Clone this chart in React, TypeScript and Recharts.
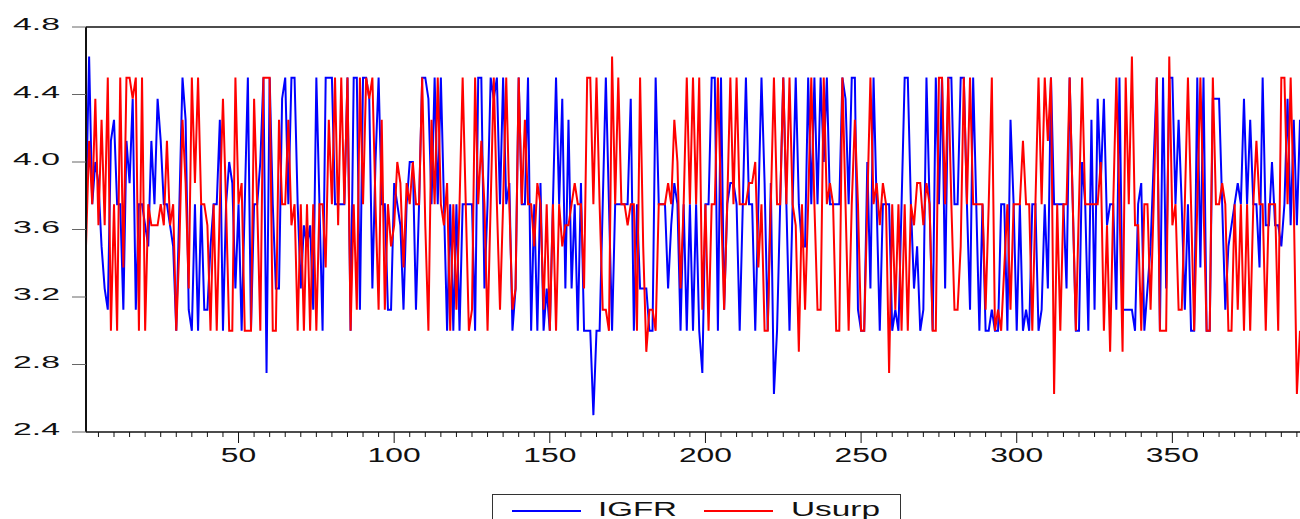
import React from 'react';
import { LineChart, Line, XAxis, YAxis, Legend, ReferenceLine } from 'recharts';

const igfr: number[] = [
  3.75, 4.625, 3.75, 4.0, 3.875, 3.5, 3.25, 3.125, 4.125, 4.25,
  3.75, 3.75, 3.125, 4.125, 3.875, 4.375, 3.125, 3.75, 3.75, 3.625,
  3.5, 4.125, 3.75, 4.375, 4.125, 3.75, 3.75, 3.625, 3.5, 3.0,
  3.75, 4.5, 4.25, 3.125, 3.0, 3.75, 3.0, 3.75, 3.125, 3.125,
  3.5, 3.75, 3.75, 4.25, 3.0, 3.75, 4.0, 3.875, 3.25, 3.75,
  3.0, 3.75, 4.5, 3.0, 3.75, 3.75, 4.0, 4.5, 2.75, 4.5,
  3.75, 3.25, 3.25, 4.375, 4.5, 3.75, 4.5, 4.5, 3.75, 3.25,
  3.625, 3.5, 3.625, 3.125, 4.5, 3.75, 3.0, 4.5, 4.5, 4.5,
  3.75, 3.75, 3.75, 3.75, 4.5, 3.0, 4.5, 4.5, 3.125, 4.5,
  4.5, 4.375, 3.25, 4.0, 4.5, 3.75, 3.75, 3.125, 3.125, 3.875,
  3.75, 3.625, 3.125, 3.75, 4.0, 4.0, 3.125, 3.75, 4.5, 4.5,
  4.375, 3.75, 4.5, 3.75, 4.5, 3.75, 3.0, 3.75, 3.0, 3.75,
  3.0, 3.75, 3.75, 3.75, 3.75, 3.0, 4.5, 4.5, 3.25, 3.75,
  4.5, 4.375, 4.5, 3.75, 4.5, 3.75, 3.875, 3.0, 3.25, 4.5,
  3.75, 3.75, 4.5, 3.0, 3.75, 3.0, 3.875, 3.0, 3.25, 3.0,
  3.75, 4.5, 3.75, 4.375, 3.25, 4.25, 3.25, 3.75, 3.0, 3.875,
  3.0, 3.0, 3.0, 2.5, 3.0, 3.0, 3.75, 4.5, 3.75, 3.0,
  3.75, 3.75, 3.75, 3.75, 3.75, 4.375, 3.0, 3.75, 3.25, 3.25,
  3.25, 3.0, 3.0, 4.5, 3.75, 3.75, 3.75, 3.25, 3.625, 3.875,
  3.75, 3.0, 3.75, 3.0, 3.75, 3.0, 3.75, 3.0, 2.75, 3.75,
  3.75, 4.5, 4.5, 3.0, 4.5, 3.125, 3.75, 3.875, 3.875, 3.75,
  3.0, 3.75, 4.5, 3.75, 3.75, 3.0, 3.75, 4.5, 3.875, 3.0,
  3.875, 2.625, 3.0, 3.75, 4.5, 3.75, 3.0, 3.75, 4.5, 3.75,
  3.5, 3.5, 4.5, 3.75, 4.5, 3.75, 4.5, 4.0, 4.5, 3.75,
  3.75, 3.75, 3.75, 4.5, 4.375, 3.75, 4.5, 4.5, 3.125, 3.0,
  3.0, 4.0, 3.25, 4.5, 3.75, 3.0, 3.75, 3.75, 3.75, 3.0,
  3.125, 3.0, 3.75, 4.5, 4.5, 3.75, 3.25, 3.5, 3.0, 3.125,
  4.5, 3.75, 3.0, 4.5, 3.75, 4.5, 3.25, 4.5, 4.5, 3.75,
  3.75, 4.5, 4.5, 3.75, 3.125, 4.5, 3.75, 3.0, 3.75, 3.0,
  3.0, 3.125, 3.0, 3.0, 3.75, 3.75, 3.0, 4.25, 3.75, 3.0,
  3.75, 3.0, 3.125, 3.0, 3.75, 3.75, 3.0, 3.125, 3.75, 3.25,
  4.5, 3.75, 3.75, 3.75, 3.75, 3.25, 4.5, 3.75, 3.0, 3.0,
  4.0, 3.75, 3.0, 4.25, 3.125, 4.375, 3.875, 4.375, 3.625, 3.75,
  3.75, 3.125, 4.5, 3.125, 3.125, 3.125, 3.125, 3.0, 3.75, 3.875,
  3.0, 3.25, 3.5, 4.0, 4.5, 3.0, 4.5, 3.25, 4.5, 4.5,
  3.75, 4.25, 3.75, 3.125, 3.75, 3.0, 3.0, 4.5, 3.375, 4.5,
  3.0, 3.0, 4.375, 4.375, 4.375, 3.75, 3.125, 3.5, 3.625, 3.75,
  3.875, 3.75, 4.375, 3.75, 4.25, 3.75, 3.75, 3.375, 4.5, 3.625,
  3.625, 4.0, 3.625, 3.625, 3.5, 3.75, 4.375, 3.625, 4.25, 3.625, 4.25,
];

const usurp: number[] = [
  3.5, 4.125, 3.75, 4.375, 3.625, 4.25, 3.625, 4.5, 3.0, 3.75,
  3.0, 4.5, 3.375, 4.5, 4.5, 4.375, 4.5, 3.0, 4.5, 3.0,
  3.75, 3.625, 3.625, 3.625, 3.75, 3.625, 4.125, 3.625, 3.75, 3.0,
  3.5, 4.25, 3.875, 3.25, 4.5, 3.875, 4.5, 3.75, 3.75, 3.625,
  3.0, 3.75, 3.0, 3.75, 4.375, 3.75, 3.0, 3.0, 4.5, 3.75,
  3.875, 3.0, 3.0, 3.0, 4.375, 3.75, 3.0, 4.5, 4.5, 4.5,
  3.0, 3.0, 4.25, 3.75, 3.75, 4.25, 3.625, 3.75, 3.0, 3.75,
  3.0, 3.75, 3.0, 3.75, 3.0, 3.75, 3.75, 3.375, 4.25, 3.75,
  4.5, 3.625, 4.5, 3.75, 4.5, 3.0, 3.75, 3.125, 4.5, 3.75,
  4.5, 4.375, 4.5, 3.75, 3.125, 4.25, 3.125, 3.75, 3.5, 3.625,
  4.0, 3.875, 3.375, 3.875, 3.75, 4.0, 3.75, 3.75, 4.5, 3.625,
  3.0, 4.25, 3.75, 4.5, 3.75, 3.625, 3.875, 3.0, 3.75, 3.125,
  3.75, 4.5, 3.75, 3.0, 3.125, 4.5, 3.75, 4.125, 3.75, 3.0,
  3.75, 4.5, 3.75, 3.125, 3.75, 4.5, 3.75, 3.125, 3.25, 4.5,
  3.75, 4.25, 3.75, 3.75, 3.5, 3.875, 3.75, 3.125, 3.75, 3.0,
  3.75, 3.0, 3.75, 3.5, 3.625, 3.625, 3.75, 3.875, 3.75, 3.75,
  3.25, 4.5, 4.5, 3.75, 4.5, 3.75, 3.125, 3.125, 3.0, 4.625,
  3.75, 4.5, 3.75, 3.75, 3.625, 3.75, 3.75, 3.0, 4.5, 3.5,
  2.875, 3.125, 3.125, 3.0, 3.75, 3.75, 3.75, 3.875, 3.75, 4.25,
  4.0, 3.25, 3.75, 4.5, 3.75, 4.5, 3.75, 4.5, 3.125, 3.75,
  3.0, 3.75, 3.75, 4.5, 3.75, 3.125, 3.75, 4.5, 3.75, 4.5,
  3.75, 3.75, 3.75, 3.875, 3.875, 4.0, 3.375, 3.75, 3.0, 3.0,
  3.75, 4.5, 3.75, 3.75, 4.5, 3.75, 4.5, 3.75, 3.625, 2.875,
  3.75, 3.125, 3.75, 4.5, 3.75, 3.125, 3.125, 4.5, 3.75, 3.875,
  3.75, 3.0, 3.0, 4.5, 3.75, 3.0, 3.75, 4.25, 3.75, 3.0,
  3.0, 3.75, 4.5, 3.75, 3.875, 3.625, 3.875, 3.75, 2.75, 3.75,
  3.125, 3.75, 3.0, 3.75, 3.0, 3.75, 3.625, 3.875, 3.875, 3.625,
  3.875, 3.75, 3.0, 3.0, 4.5, 4.5, 3.75, 4.5, 3.75, 3.125,
  3.125, 3.5, 4.5, 3.75, 4.5, 3.75, 3.75, 3.75, 3.75, 3.125,
  3.75, 4.5, 3.0, 3.125, 3.0, 3.375, 3.75, 3.125, 3.75, 3.75,
  3.75, 4.125, 3.75, 3.75, 3.0, 3.75, 4.5, 3.75, 4.5, 4.125,
  4.5, 2.625, 3.75, 3.0, 3.75, 3.75, 4.5, 3.75, 3.0, 3.75,
  4.5, 3.75, 3.75, 3.75, 3.75, 3.75, 4.0, 3.0, 3.625, 2.875,
  3.75, 4.5, 3.75, 2.875, 4.5, 3.75, 4.625, 3.625, 3.625, 3.0,
  3.75, 3.75, 3.125, 3.75, 4.5, 3.0, 3.0, 3.0, 4.625, 3.625,
  3.75, 3.125, 3.125, 3.75, 4.5, 3.75, 3.0, 3.75, 4.5, 3.75,
  3.0, 3.0, 4.5, 3.75, 3.75, 3.875, 3.75, 3.0, 3.0, 3.75,
  3.125, 3.75, 3.0, 3.75, 3.0, 3.75, 4.125, 3.75, 3.75, 3.0,
  3.75, 3.75, 3.75, 3.0, 4.5, 4.5, 3.75, 4.5, 3.75, 2.625, 3.0,
];

const seriesNames = ['IGFR', 'Usurp'];
const seriesColors = ['#0000FF', '#FF0000'];
const yTicks = [2.4, 2.8, 3.2, 3.6, 4.0, 4.4, 4.8];
const xLabelTicks = [50, 100, 150, 200, 250, 300, 350];
const firstObs = 1;
const minorStep = 5;

const FONT = '"Liberation Sans", Arial, Helvetica, sans-serif';

const data = igfr.map((v, i) => ({ obs: firstObs + i, IGFR: v, Usurp: usurp[i] }));
const lastObs = firstObs + igfr.length - 1;
const xTicks: number[] = [];
for (let t = minorStep; t <= lastObs; t += minorStep) xTicks.push(t);

const YTick = (props: any) => {
  const { x, y, payload } = props;
  const label = Number(payload.value).toFixed(1);
  return (
    <text x={x} y={y + 3} textAnchor="end" fontFamily={FONT} fontSize={16.5} fill="#111"
      textLength={47} lengthAdjust="spacingAndGlyphs">{label}</text>
  );
};

const XTick = (props: any) => {
  const { x, y, payload } = props;
  const v = Number(payload.value);
  const major = xLabelTicks.includes(v);
  const label = String(v);
  return (
    <g>
      <line x1={x} x2={x} y1={y} y2={y + (major ? 11 : 5)} stroke="#111" strokeWidth={1} />
      {major && (
        <text x={x} y={y + 30} textAnchor="middle" fontFamily={FONT} fontSize={20} fill="#111"
          textLength={17.7 * label.length} lengthAdjust="spacingAndGlyphs">{label}</text>
      )}
    </g>
  );
};

const LegendBox = (props: any) => {
  const payload = (props.payload || []) as any[];
  const items = payload.length ? payload : seriesNames.map((n, i) => ({ value: n, color: seriesColors[i] }));
  const lineStarts = [20, 212];
  const textStarts = [106, 299];
  const textLens = [79, 89];
  return (
    <svg width={410} height={40} style={{ display: 'block' }}>
      <rect x={0.5} y={0.5} width={408} height={60} fill="#fff" stroke="#333" strokeWidth={1} />
      {items.map((it: any, i: number) => (
        <g key={it.value}>
          <line x1={lineStarts[i]} x2={lineStarts[i] + 69} y1={17} y2={17} stroke={it.color} strokeWidth={2} />
          <text x={textStarts[i]} y={22} fontFamily={FONT} fontSize={20} fill="#111"
            textLength={textLens[i]} lengthAdjust="spacingAndGlyphs">{it.value}</text>
        </g>
      ))}
    </svg>
  );
};

export default function App() {
  return (
    <div style={{ position: 'absolute', left: 0, top: 0, width: 1300, height: 519, overflow: 'hidden', background: '#fff' }}>
      <LineChart width={1300} height={519} data={data} margin={{ top: 27, right: 0, bottom: 0, left: 0 }}>
        <XAxis
          dataKey="obs"
          type="number"
          domain={[firstObs, lastObs]}
          ticks={xTicks}
          interval={0}
          height={87}
          tickLine={false}
          tickSize={0}
          tickMargin={0}
          axisLine={{ stroke: '#111', strokeWidth: 1.5 }}
          tick={<XTick />}
        />
        <YAxis
          type="number"
          domain={[2.4, 4.8]}
          ticks={yTicks}
          interval={0}
          width={86}
          tickSize={14}
          tickMargin={12}
          tickLine={{ stroke: '#666', strokeWidth: 1 }}
          axisLine={{ stroke: '#111', strokeWidth: 2 }}
          tick={<YTick />}
        />
        <ReferenceLine y={4.8} stroke="#111" strokeWidth={1.5} />
        <Line dataKey="IGFR" name={seriesNames[0]} stroke={seriesColors[0]} strokeWidth={2} dot={false} activeDot={false} isAnimationActive={false} />
        <Line dataKey="Usurp" name={seriesNames[1]} stroke={seriesColors[1]} strokeWidth={2} dot={false} activeDot={false} isAnimationActive={false} />
        <Legend
          layout="horizontal"
          verticalAlign="middle"
          align="center"
          content={<LegendBox />}
          wrapperStyle={{ left: 492, top: 494, width: 410, height: 40, margin: 0, padding: 0 }}
        />
      </LineChart>
    </div>
  );
}
